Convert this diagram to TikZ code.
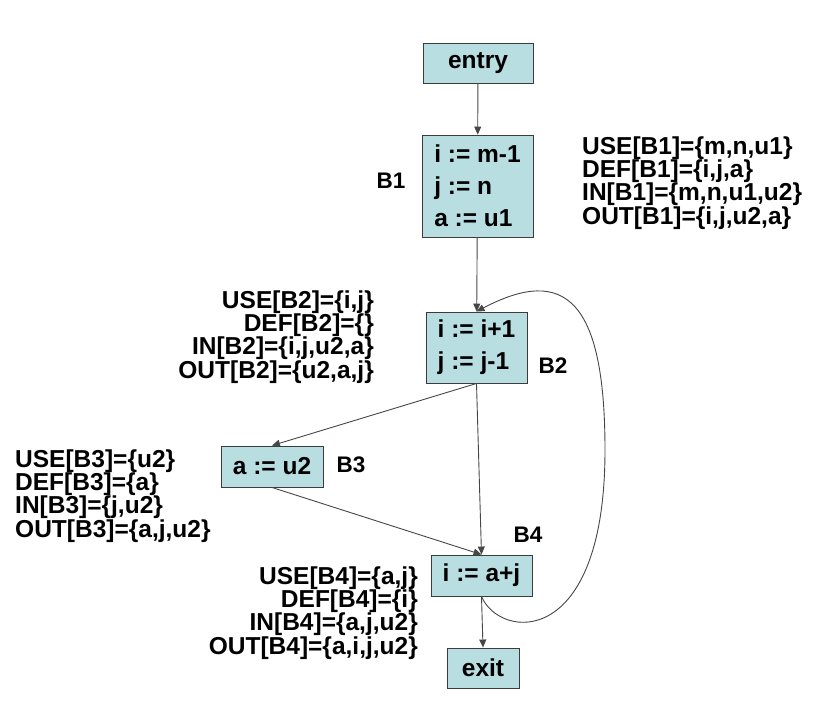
\documentclass[tikz,border=0pt]{standalone}
\usepackage{fontspec}
\setmainfont{Liberation Sans}
\usetikzlibrary{arrows.meta}
\definecolor{blkfill}{RGB}{184,222,226}
\definecolor{blkline}{RGB}{60,60,60}
\definecolor{flowline}{RGB}{70,70,70}
\def\blkfont{\bfseries\fontsize{24.5}{32}\selectfont}
\def\notefont{\bfseries\fontsize{24.5}{23.3}\selectfont}
\def\lblfont{\bfseries\fontsize{22.5}{24}\selectfont}
\tikzset{
  blk/.style={draw=blkline, fill=blkfill, line width=0.9pt, inner sep=0pt, font=\blkfont, align=left},
  note/.style={inner sep=0pt, font=\notefont},
  lbl/.style={inner sep=0pt, font=\lblfont},
  flow/.style={draw=flowline, line width=0.9pt, -{Triangle[length=8pt,width=7pt]}}
}

\begin{document}
\begin{tikzpicture}[x=1pt,y=-1pt]
		%%%%% START %%%%%
		\useasboundingbox (0,0) rectangle (823,723);
		
		\node[blk, minimum width=110, minimum height=40] (entry) at (478,63) {entry};
		\node[blk, minimum width=111, minimum height=102] (B1) at (477.5,186) {i := m-1\\j := n\\a := u1};
		\node[blk, minimum width=101, minimum height=71] (B2) at (476.5,347.5) {i := i+1\\j := j-1};
		\node[blk, minimum width=102, minimum height=41] (B3) at (272,466.5) {a := u2};
		\node[blk, minimum width=101, minimum height=41] (B4) at (481.5,575.5) {i := a+j};
		\node[blk, minimum width=72, minimum height=40] (exit) at (483,668) {exit};
		
		\node[lbl] (nB1) at (391,181) {B1};
		\node[lbl] (nB2) at (553,366) {B2};
		\node[lbl] (nB3) at (351,465) {B3};
		\node[lbl] (nB4) at (528,535) {B4};
		
		\node[note, anchor=west, align=left] (setB1) at (582,183) {USE[B1]=\{m,n,u1\}\\DEF[B1]=\{i,j,a\}\\IN[B1]=\{m,n,u1,u2\}\\OUT[B1]=\{i,j,u2,a\}};
		\node[note, anchor=east, align=right] (setB2) at (374,337) {USE[B2]=\{i,j\}\\DEF[B2]=\{\}\\IN[B2]=\{i,j,u2,a\}\\OUT[B2]=\{u2,a,j\}};
		\node[note, anchor=west, align=left] (setB3) at (15,496) {USE[B3]=\{u2\}\\DEF[B3]=\{a\}\\IN[B3]=\{j,u2\}\\OUT[B3]=\{a,j,u2\}};
		\node[note, anchor=east, align=right] (setB4) at (418,613) {USE[B4]=\{a,j\}\\DEF[B4]=\{i\}\\IN[B4]=\{a,j,u2\}\\OUT[B4]=\{a,i,j,u2\}};
		
		\draw[flow] (entry) -- (B1);
		\draw[flow] (B1) -- (B2);
		\draw[flow] (B2.south) -- (B3.north);
		\draw[flow] (B2.south) -- (B4.north);
		\draw[flow] (B3.south) -- (B4.north);
		\draw[flow] (B4.south) -- (exit.north);
		
		\coordinate (loopR) at (605,450);
		\draw[flow] (B4.south) .. controls (500,640) and (605,650) .. (loopR) .. controls (605,300) and (565,265) .. (B2.north);
		%%%%% END %%%%%
\end{tikzpicture}
\end{document}
